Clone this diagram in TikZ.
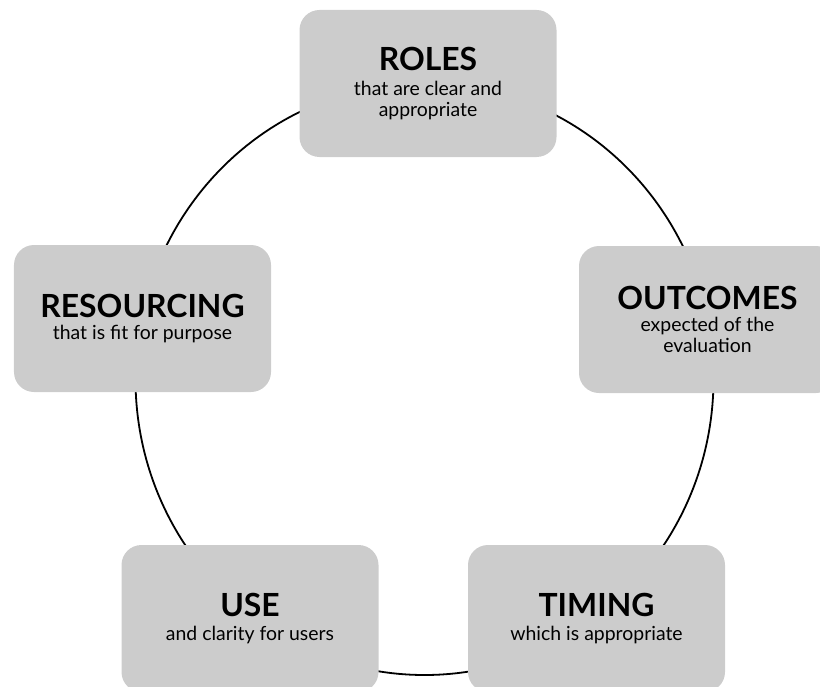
\documentclass[tikz,border=0pt]{standalone}
\usepackage{fontspec}
\setmainfont{Lato}
\usepackage{tikz}
\definecolor{boxgray}{RGB}{204,204,204}
\newcommand{\heading}[1]{{\fontsize{32}{34}\selectfont\bfseries #1}}

\begin{document}
\begin{tikzpicture}[x=1bp,y=-1bp,
        stage/.style={fill=boxgray,rounded corners=20bp,minimum width=257bp,
          minimum height=147bp,inner sep=0pt,align=center,
          font=\fontsize{19.5}{21}\selectfont}]
        \useasboundingbox (0,0) rectangle (820,687);
        \coordinate (hub) at (424.5,379);
        \draw[line width=1.8bp] (hub) ellipse [x radius=289bp,y radius=296bp];

        \node[stage] (roles) at (428,83.5) {\heading{ROLES}\\[4bp]that are clear and\\appropriate};
        \node[stage] (outcomes) at (707.5,319.5) {\heading{OUTCOMES}\\[1bp]expected of the\\evaluation};
        \node[stage] (timing) at (596.5,618.5) {\heading{TIMING}\\[4bp]which is appropriate};
        \node[stage] (use) at (250,618.5) {\heading{USE}\\[4bp]and clarity for users};
        \node[stage] (resourcing) at (142.5,318.5) {\heading{RESOURCING}\\[1bp]that is fit for purpose};
    \end{tikzpicture}
\end{document}
